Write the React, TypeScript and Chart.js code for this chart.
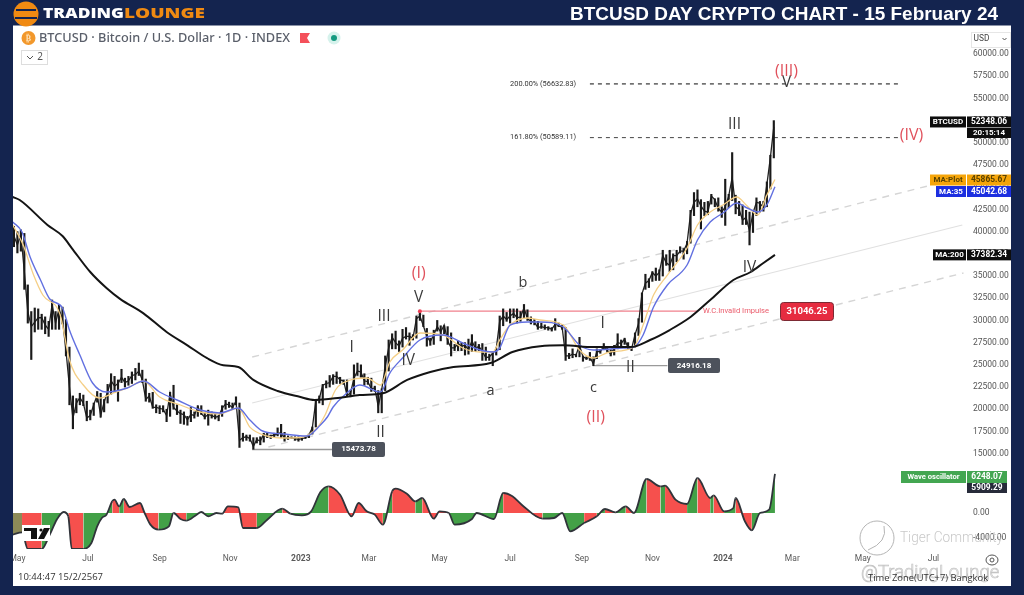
import React, { useEffect, useRef } from "react";
import { Chart, registerables } from "chart.js";

Chart.register(...registerables);

// Day offsets count from 1 May 2022
const monthDays = [0, 61, 123, 184, 245, 304, 365, 426, 488, 549, 610, 670, 731, 792];
const monthLabels = ["May", "Jul", "Sep", "Nov", "2023", "Mar", "May", "Jul", "Sep", "Nov", "2024", "Mar", "May", "Jul"];
const priceTicks = [15000, 17500, 20000, 22500, 25000, 27500, 30000, 32500, 35000, 37500, 40000, 42500, 45000, 47500, 50000, 52500, 55000, 57500, 60000];
const oscTicks = [0, -4000];

const firstCandleDay = -3;
const candleStep = 3;
const candleCloses = [
  39500, 38500, 39700, 35500, 31000, 29300, 29800, 30300, 30300, 29500,
  29000, 31800, 29700, 31300, 30100, 26600, 22500, 19000, 20700, 21300,
  20700, 19000, 19300, 20500, 21600, 19300, 20800, 22000, 23200, 22600,
  22900, 23600, 23000, 23200, 23800, 23900, 24300, 23300, 21100, 21500,
  20200, 20200, 20100, 20000, 19300, 21800, 20200, 19800, 19500, 19400,
  18800, 19400, 19300, 20300, 19500, 19100, 19400, 19300, 19100, 19200,
  20100, 20600, 20500, 20200, 20900, 16500, 16800, 16900, 16700, 15800,
  16600, 16400, 17200, 16900, 17000, 17100, 17200, 17400, 16700, 16800,
  16800, 16700, 16600, 16700, 16800, 17100, 17900, 20900, 21200, 22700,
  22900, 23000, 23700, 23700, 23300, 23200, 21600, 21800, 23500, 24300,
  24200, 23200, 23100, 22300, 22400, 20300, 22200, 24800, 26900, 28100,
  27500, 27100, 28000, 28200, 28200, 28000, 30200, 30500, 29400, 28200,
  27600, 28400, 29300, 28700, 29500, 27700, 26900, 26900, 27400, 27100,
  27200, 26700, 27700, 26800, 27100, 26500, 25800, 25900, 26300, 26800,
  29900, 30500, 30100, 30500, 30800, 30300, 30400, 31400, 30200, 29900,
  29800, 29200, 29300, 29200, 29200, 29000, 29600, 29400, 29200, 26000,
  26000, 26200, 26100, 27200, 25900, 25700, 25900, 25100, 26500, 26500,
  27100, 26600, 26200, 26900, 27500, 27400, 27900, 26900, 26800, 28400,
  29600, 33000, 34200, 34500, 35400, 35000, 35400, 37300, 36500, 36200,
  37300, 37300, 37800, 37800, 38700, 42000, 43300, 43700, 42900, 42300,
  42200, 44000, 43600, 42600, 42200, 42800, 44000, 46100, 42800, 42500,
  41300, 41600, 40100, 42100, 43300, 43200, 42700, 45300, 48300, 51800,
];
const candleHighs = [
  40600, 40000, 40200, 39800, 34000, 31000, 31400, 31300, 30700, 30400,
  29900, 32300, 31000, 31800, 31500, 30100, 27000, 21500, 21200, 21800,
  21600, 20900, 19900, 20700, 22000, 21800, 21100, 22800, 24000, 23700,
  23300, 24500, 23500, 23700, 24200, 24600, 25200, 24400, 23400, 21800,
  21900, 20500, 20400, 20400, 20000, 21900, 22700, 20500, 19900, 19700,
  19200, 20200, 19700, 20400, 20400, 19600, 19900, 19700, 19500, 19300,
  20400, 21000, 20800, 20700, 21400, 20700, 17300, 17100, 17100, 16800,
  16800, 16900, 17300, 17300, 17100, 17300, 17900, 18300, 17400, 17000,
  16900, 16900, 16900, 16800, 16900, 17200, 18000, 21100, 21500, 22800,
  23200, 23800, 23900, 24200, 23600, 23300, 23300, 22100, 25000, 25200,
  25000, 24000, 23600, 23500, 22600, 22100, 22300, 26000, 27800, 28500,
  28800, 27700, 29000, 29200, 28600, 28400, 30500, 31000, 30600, 29100,
  28000, 28900, 30000, 29400, 29400, 29300, 28600, 27300, 27700, 27500,
  27500, 27900, 28400, 27600, 27300, 27400, 27000, 26200, 26500, 26900,
  30500, 31300, 30900, 31300, 31300, 31300, 31000, 31800, 31200, 30400,
  30100, 29900, 29700, 29500, 29300, 29200, 30200, 29700, 29500, 29200,
  26300, 26800, 26200, 28100, 26000, 25900, 26400, 25900, 26800, 26700,
  27400, 26900, 26700, 27200, 28500, 27800, 28000, 27500, 27000, 28600,
  30200, 33100, 35200, 34700, 35500, 35900, 35700, 37900, 37400, 37900,
  37500, 37900, 38300, 38100, 38900, 42400, 44400, 44700, 43600, 43300,
  43400, 44200, 43700, 43800, 42800, 45900, 44200, 48900, 44100, 43400,
  43000, 42400, 42200, 42200, 43800, 43400, 43400, 45600, 48600, 52500,
];
const candleLows = [
  38300, 37600, 37800, 33500, 29700, 25600, 28700, 29000, 29000, 28500,
  28200, 29000, 29000, 29000, 29600, 26000, 20500, 17800, 19600, 20500,
  20400, 18700, 18800, 19300, 20800, 19100, 19700, 20700, 21700, 21900,
  20900, 23000, 22500, 22700, 22900, 23300, 23800, 23000, 20900, 20800,
  20100, 19600, 19500, 19700, 18600, 19200, 20000, 19400, 18400, 18300,
  18200, 18600, 19000, 19200, 19400, 18900, 18200, 19000, 18900, 18700,
  19200, 20000, 20200, 20000, 20500, 15700, 16400, 16500, 16400, 15500,
  16200, 16000, 16300, 16800, 16700, 16800, 17000, 16800, 16400, 16600,
  16700, 16500, 16400, 16500, 16700, 16800, 17200, 18000, 20700, 20500,
  22400, 22500, 22800, 22900, 22900, 22800, 21500, 21400, 21700, 23800,
  23600, 22700, 22800, 22000, 22000, 19600, 19600, 22100, 24300, 26800,
  26800, 26500, 27000, 27900, 27200, 27800, 28000, 30000, 29300, 27100,
  27200, 27300, 28800, 27700, 28500, 27300, 26000, 26600, 26600, 26600,
  26100, 26200, 26500, 26500, 26600, 25500, 25500, 25500, 24900, 26100,
  26700, 29400, 29900, 29700, 30300, 29700, 29900, 30300, 30000, 29600,
  29500, 29000, 29100, 29000, 28900, 28800, 28900, 29300, 29000, 25500,
  25700, 25800, 25900, 25900, 25400, 25600, 25500, 24900, 25700, 26300,
  26800, 26400, 26000, 26100, 26800, 27100, 27300, 26800, 26600, 27000,
  28300, 29800, 33500, 33700, 34400, 34500, 34500, 35000, 36200, 35500,
  35700, 36600, 37600, 36900, 37500, 38700, 41800, 42800, 40300, 41800,
  41900, 43100, 42800, 42300, 41600, 40700, 42700, 43500, 42000, 41800,
  40800, 40800, 38500, 39900, 41800, 42200, 42300, 42800, 44800, 48300,
];

const ma200Days = [-4, 2, 26, 39, 47, 63, 77, 89, 109, 129, 147, 164, 178, 191, 204, 225, 244, 257, 279, 296, 316, 337, 357, 377, 409, 428, 452, 472, 498, 530, 547, 564, 582, 599, 619, 634, 645, 655];
const ma200Values = [43900, 43560, 40750, 39500, 38150, 35450, 33650, 32400, 30800, 28700, 27200, 25750, 24950, 24750, 23300, 22050, 21400, 21050, 21300, 21600, 21800, 23300, 24200, 24750, 25200, 26450, 27100, 27200, 27000, 27000, 27796, 28922, 30386, 32300, 34552, 35453, 36466, 37382];

const ma35Days = [-4, 4, 11, 20, 28, 39, 45, 54, 65, 77, 95, 109, 123, 138, 158, 175, 191, 201, 212, 230, 250, 262, 268, 273, 282, 296, 314, 322, 333, 348, 368, 385, 400, 411, 417, 426, 441, 452, 472, 486, 498, 524, 533, 541, 550, 562, 579, 588, 599, 610, 622, 631, 640, 648, 655];
const ma35Values = [41083, 39957, 37142, 34552, 32413, 31399, 28922, 26107, 22954, 21941, 22391, 23179, 21941, 21040, 19914, 19576, 20139, 18788, 17549, 17212, 16986, 18225, 19126, 20250, 21490, 22729, 21941, 24080, 25769, 27796, 28359, 27458, 26670, 26445, 26895, 29485, 29823, 29823, 29260, 27233, 26670, 26895, 27008, 28359, 31512, 33989, 36241, 39056, 41083, 42096, 43222, 42659, 42209, 43002, 45043];

const maPlotDays = [-4, 5, 14, 22, 37, 45, 57, 71, 83, 95, 109, 123, 141, 158, 175, 191, 201, 216, 233, 247, 259, 266, 275, 288, 302, 314, 322, 333, 348, 368, 385, 400, 411, 417, 426, 441, 452, 472, 486, 498, 512, 533, 541, 550, 562, 579, 588, 599, 610, 622, 631, 640, 648, 655];
const maPlotValues = [40745, 38493, 35115, 32863, 30611, 25544, 22729, 21265, 21828, 22391, 23179, 21378, 20477, 19689, 19464, 20139, 17990, 16986, 16761, 16874, 17887, 19351, 22166, 23291, 23517, 22729, 25319, 26670, 28584, 28359, 26895, 26445, 26445, 27796, 29485, 30273, 30048, 29485, 26670, 25769, 26445, 27008, 29485, 32863, 35115, 38155, 40745, 42209, 42997, 43898, 42884, 41871, 44123, 45866];

const oscDays = [-4, 4, 9, 21, 28, 34, 40, 44, 47, 57, 64, 69, 73, 77, 82, 84, 88, 92, 97, 106, 110, 115, 122, 131, 135, 141, 146, 155, 159, 165, 172, 177, 182, 191, 195, 207, 216, 229, 236, 246, 254, 262, 269, 279, 289, 295, 302, 309, 316, 324, 327, 337, 344, 350, 360, 365, 373, 378, 393, 397, 412, 420, 428, 436, 454, 464, 471, 478, 490, 501, 508, 517, 526, 533, 544, 556, 560, 569, 579, 588, 599, 602, 611, 619, 621, 629, 635, 642, 650, 655];
const oscValues = [-3465, -3090, -5760, -5760, -3465, -1066, 160, -533, -5760, -5760, -4797, -2132, -800, -266, 1866, 2132, 1066, 2239, 960, 1600, 0, -1866, -2665, -2132, 0, -960, -1226, -266, 160, -533, 0, -107, 1066, 906, -2400, -2400, -1066, 693, -107, -373, 266, 3358, 4264, 2932, -533, 1600, 266, -266, -1866, 3465, 3891, 3038, 1866, 2399, -906, 266, 0, -1866, -960, 0, -960, 3198, 2665, 1333, -906, -800, 0, -2932, -1600, -533, 640, 107, 1066, 0, 5437, 4264, 4371, 2132, 1439, 5597, 2399, 2825, 266, 800, 2399, -1333, -2772, 0, 533, 6248];
// Day each colour band of the oscillator starts on
const oscBandStarts = [-4, 4, 12, 41, 49, 59, 63, 82, 87, 92, 99, 106, 122, 135, 146, 176, 197, 202, 205, 220, 233, 269, 316, 323, 331, 337, 344, 350, 373, 389, 392, 400, 412, 419, 451, 461, 464, 474, 478, 490, 493, 503, 514, 523, 532, 544, 556, 560, 579, 588, 599, 602, 611, 621, 635];
const oscBandKinds = ["o", "r", "g", "r", "g", "r", "g", "r", "g", "r", "g", "r", "g", "r", "g", "r", "g", "r", "g", "r", "g", "r", "g", "r", "g", "r", "g", "r", "g", "r", "g", "r", "g", "r", "g", "r", "g", "r", "g", "r", "g", "r", "g", "r", "g", "r", "g", "r", "g", "r", "g", "r", "g", "r", "g"];

const fib200 = { day0: 495, day1: 763, value: 56632.83, text: "200.00% (56632.83)", textDay: 426 };
const fib161 = { day0: 495, day1: 763, value: 50589.11, text: "161.80% (50589.11)", textDay: 426 };
const invalidLine = { day0: 348, day1: 588, value: 31046.25 };
const lowAnchor = { day0: 203, day1: 272, value: 15473.78 };
const midAnchor = { day0: 498, day1: 562, value: 24916.18 };
const channelUpperDays = [203, 787];
const channelUpperValues = [25880, 45136];
const channelMidDays = [203, 817];
const channelMidValues = [20700, 40745];
const channelLowerDays = [217, 818];
const channelLowerValues = [15748, 35340];

const waveTexts = ["I", "III", "IV", "V", "a", "b", "c", "I", "II", "II", "III", "IV", "V"];
const waveDays = [289, 317, 338, 347, 409, 437, 498, 506, 530, 314, 620, 633, 665];
const wavePrices = [26895, 30386, 25431, 32525, 22053, 34214, 22391, 29598, 24643, 17324, 52005, 35903, 56734];
const redTexts = ["(I)", "(II)", "(III)", "(IV)"];
const redDays = [347, 500, 665, 773];
const redPrices = [35340, 19126, 58085, 50879];

const NAVY = "#14244f";
const GREEN = "#43a047";
const RED = "#f6504d";

const pts = (xs: number[], ys: number[]) => xs.map((x, i) => ({ x, y: ys[i] }));
const candleDay = (i: number) => firstCandleDay + i * candleStep;
const flat = (l: { day0: number; day1: number; value: number }) => [
  { x: l.day0, y: l.value },
  { x: l.day1, y: l.value },
];

function bandColor(day: number) {
  let k = "g";
  for (let i = 0; i < oscBandStarts.length; i++) if (day >= oscBandStarts[i]) k = oscBandKinds[i];
  return k === "r" ? RED : k === "o" ? "#8c8a58" : GREEN;
}

function txt(c: any, s: string, x: number, y: number, font: string, color: string, align: CanvasTextAlign = "left") {
  c.font = font;
  c.fillStyle = color;
  c.textAlign = align;
  c.textBaseline = "middle";
  c.fillText(s, x, y);
}

// text stretched sideways so it spans the given width
function fitTxt(c: any, s: string, x: number, y: number, w: number, font: string, color: string) {
  c.save();
  c.font = font;
  const m = c.measureText(s).width;
  c.translate(x, y);
  c.scale(w / m, 1);
  txt(c, s, 0, 0, font, color);
  c.restore();
}

function box(c: any, x0: number, y0: number, x1: number, y1: number, color: string) {
  c.fillStyle = color;
  c.fillRect(x0, y0, x1 - x0, y1 - y0);
}

const UI = "Roboto, sans-serif";

function drawPanel(chart: any) {
  const c = chart.ctx;
  box(c, 0, 0, 1024, 595, NAVY);
  box(c, 13, 25.5, 1011, 586, "#ffffff");
}

function drawDecor(chart: any) {
  const c = chart.ctx;
  const { x: X, y: Y } = chart.scales;
  c.save();
  // strip that cuts off the axis text at the panel edge
  box(c, 0, 26, 13, 595, NAVY);

  // header
  c.fillStyle = "#f08a12";
  c.beginPath();
  c.arc(26, 14, 12.5, 0, Math.PI * 2);
  c.fill();
  box(c, 16, 9, 36, 11, NAVY);
  box(c, 15, 17, 37, 19, NAVY);
  fitTxt(c, "TRADING", 43, 14, 81, '800 13.5px "Open Sans", sans-serif', "#ffffff");
  fitTxt(c, "LOUNGE", 124, 14, 81, '800 13.5px "Open Sans", sans-serif', "#f08a12");
  fitTxt(c, "BTCUSD DAY CRYPTO CHART - 15 February 24", 570, 15, 428, '700 18.5px "Liberation Sans", sans-serif', "#ffffff");

  // symbol legend
  c.fillStyle = "#f2982c";
  c.beginPath();
  c.arc(28.5, 38, 7, 0, Math.PI * 2);
  c.fill();
  txt(c, "₿", 28.5, 38.5, "700 8px 'DejaVu Sans'", "#ffe2b8", "center");
  fitTxt(c, "BTCUSD · Bitcoin / U.S. Dollar · 1D · INDEX", 39, 38, 251, '500 12.4px "Noto Sans", sans-serif', "#5a5f6a");
  c.fillStyle = "#f4505a";
  c.beginPath();
  c.moveTo(300, 33);
  c.lineTo(310, 33);
  c.lineTo(307, 38);
  c.lineTo(310, 43);
  c.lineTo(300, 43);
  c.fill();
  c.fillStyle = "#d6f2ec";
  c.beginPath();
  c.arc(334, 38, 6.5, 0, Math.PI * 2);
  c.fill();
  c.fillStyle = "#159a80";
  c.beginPath();
  c.arc(334, 38, 3, 0, Math.PI * 2);
  c.fill();
  c.strokeStyle = "#dddddd";
  c.lineWidth = 1;
  c.strokeRect(21.5, 50.5, 26, 14);
  c.strokeStyle = "#555555";
  c.beginPath();
  c.moveTo(27, 56);
  c.lineTo(30, 59);
  c.lineTo(33, 56);
  c.stroke();
  txt(c, "2", 40, 57.5, '10px "Noto Sans"', "#555555", "center");
  c.strokeStyle = "#e6e6e6";
  c.strokeRect(971.5, 32.5, 39, 15);
  txt(c, "USD", 981.5, 38.5, `8.4px ${UI}`, "#444444", "center");
  c.strokeStyle = "#555555";
  c.beginPath();
  c.moveTo(1002.5, 38);
  c.lineTo(1004.5, 40);
  c.lineTo(1006.5, 38);
  c.stroke();

  // tradingview mark
  box(c, 22, 525, 50, 541, "#ffffff");
  box(c, 24, 528, 37, 531, "#111111");
  box(c, 31, 531, 37, 539, "#111111");
  c.fillStyle = "#111111";
  c.beginPath();
  c.arc(41, 530, 1.6, 0, Math.PI * 2);
  c.fill();
  c.beginPath();
  c.moveTo(44, 528);
  c.lineTo(50, 528);
  c.lineTo(44, 539);
  c.lineTo(38, 539);
  c.fill();

  // wave counts
  waveTexts.forEach((s, i) => {
    const big = s === "III" || s === "II" || s === "I" || s === "V" || s === "IV";
    txt(c, s, X.getPixelForValue(waveDays[i]), Y.getPixelForValue(wavePrices[i]), big ? '15.5px "Open Sans", sans-serif' : '14.5px "Open Sans", sans-serif', "#3a3a3a", "center");
  });
  redTexts.forEach((s, i) => {
    txt(c, s, X.getPixelForValue(redDays[i]), Y.getPixelForValue(redPrices[i]), '16px "Open Sans", sans-serif', "#e0515c", "center");
  });

  // fib texts
  [fib200, fib161].forEach((f) => {
    txt(c, f.text, X.getPixelForValue(f.textDay), Y.getPixelForValue(f.value), `7.4px ${UI}`, "#333333");
  });

  // invalidation
  const ry = Y.getPixelForValue(invalidLine.value);
  c.fillStyle = "#ee3f55";
  c.beginPath();
  c.arc(X.getPixelForValue(invalidLine.day0), ry, 2, 0, Math.PI * 2);
  c.fill();
  txt(c, "W.C.Invalid Impulse", 703, ry, `7.6px ${UI}`, "#ea5a6a");
  c.fillStyle = "#e62c40";
  c.strokeStyle = "#7c2a34";
  c.lineWidth = 1;
  c.beginPath();
  c.roundRect(780.5, 302.5, 53, 18, 3);
  c.fill();
  c.stroke();
  txt(c, "31046.25", 807, 311.5, `700 9.5px ${UI}`, "#ffffff", "center");

  // anchored low tags
  [
    { l: lowAnchor, s: "15473.78", x0: 332, x1: 385 },
    { l: midAnchor, s: "24916.18", x0: 668, x1: 720 },
  ].forEach(({ l, s, x0, x1 }) => {
    const y = Y.getPixelForValue(l.value);
    c.fillStyle = "#4d525c";
    c.beginPath();
    c.roundRect(x0, y - 7.5, x1 - x0, 15, 2);
    c.fill();
    txt(c, s, (x0 + x1) / 2, y, `700 8px ${UI}`, "#ffffff", "center");
  });

  // right side price labels
  const v = (p: number) => Y.getPixelForValue(p);
  const lab = (name: string, x0: number, val: string, y: number, bg: string, fg: string) => {
    box(c, x0, y - 5.5, 966, y + 5.5, bg);
    box(c, 967, y - 5.5, 1011, y + 5.5, bg);
    txt(c, name, (x0 + 966) / 2, y, `700 8px ${UI}`, fg, "center");
    txt(c, val, 989, y, `700 8.4px ${UI}`, fg, "center");
  };
  lab("BTCUSD", 930, "52348.06", v(52348.06), "#0d0d0d", "#ffffff");
  box(c, 967, 128, 1011, 138, "#0d0d0d");
  txt(c, "20:15:14", 989, 133, `700 8px ${UI}`, "#ffffff", "center");
  lab("MA:Plot", 930, "45865.67", 180, "#f5a50a", "#5a4200");
  lab("MA:35", 936, "45042.68", 191.5, "#1c2fe0", "#ffffff");
  lab("MA:200", 933, "37382.34", v(37382.34), "#0d0d0d", "#ffffff");

  box(c, 901, 471, 966, 483, "#43a651");
  txt(c, "Wave oscillator", 933.5, 477, `700 7.6px ${UI}`, "#ffffff", "center");
  box(c, 967, 471, 1007, 483, "#43a651");
  txt(c, "6248.07", 987, 477, `700 8.4px ${UI}`, "#ffffff", "center");
  box(c, 967, 483, 1007, 493, "#272b3a");
  txt(c, "5909.29", 987, 488, `700 8.4px ${UI}`, "#ffffff", "center");

  // watermark
  c.strokeStyle = "#b5b5b5";
  c.lineWidth = 1;
  c.beginPath();
  c.arc(877, 538, 17, 0, Math.PI * 2);
  c.stroke();
  c.beginPath();
  c.moveTo(868, 550);
  c.quadraticCurveTo(888, 542, 884, 526);
  c.stroke();
  fitTxt(c, "Tiger Community", 900, 538, 103, `300 14.5px ${UI}`, "#c9c9c9");
  c.strokeStyle = "#c4c4c4";
  c.lineWidth = 0.7;
  c.font = `300 18.5px ${UI}`;
  c.textAlign = "left";
  c.strokeText("@TradingLounge", 861, 573);

  // footer
  txt(c, "10:44:47 15/2/2567", 18, 577, `9.5px "Open Sans", sans-serif`, "#333333");
  txt(c, "Time Zone(UTC+7) Bangkok", 868, 578, `9.4px "Open Sans", sans-serif`, "#333333");
  c.strokeStyle = "#555555";
  c.lineWidth = 1;
  c.beginPath();
  c.ellipse(992, 560, 6, 5, 0, 0, Math.PI * 2);
  c.stroke();
  c.beginPath();
  c.arc(992, 560, 2, 0, Math.PI * 2);
  c.stroke();
  c.restore();
}

const fixedWidth = (w: number) => (s: any) => {
  s.width = w;
};
const fixedHeight = (h: number) => (s: any) => {
  s.height = h;
};

export default function App() {
  const ref = useRef<HTMLCanvasElement>(null);
  useEffect(() => {
    document.body.style.margin = "0";
    const lineBase = { type: "line", pointRadius: 0, fill: false };
    const chart = new Chart(ref.current!, {
      type: "bar",
      data: {
        datasets: [
          { ...lineBase, label: "Wave oscillator", yAxisID: "y2", data: pts(oscDays, oscValues), borderColor: "#30343a", borderWidth: 1.8, cubicInterpolationMode: "monotone", fill: { target: { value: 0 } }, backgroundColor: GREEN, segment: { backgroundColor: (ctx: any) => bandColor(ctx.p0.parsed.x) }, order: 1 },
          { ...lineBase, label: "Upper channel", data: pts(channelUpperDays, channelUpperValues), borderColor: "#d5d5d5", borderWidth: 1.4, borderDash: [7, 6], order: 9 },
          { ...lineBase, label: "Mid channel", data: pts(channelMidDays, channelMidValues), borderColor: "#e0e0e0", borderWidth: 1.2, order: 9 },
          { ...lineBase, label: "Lower channel", data: pts(channelLowerDays, channelLowerValues), borderColor: "#d5d5d5", borderWidth: 1.4, borderDash: [7, 6], order: 9 },
          { ...lineBase, label: "Fib 200", data: flat(fib200), borderColor: "#222222", borderWidth: 1.1, borderDash: [4, 4], order: 8 },
          { ...lineBase, label: "Fib 161.8", data: flat(fib161), borderColor: "#555555", borderWidth: 1.1, borderDash: [4, 4], order: 8 },
          { ...lineBase, label: "Invalidation", data: flat(invalidLine), borderColor: "#f0808c", borderWidth: 1.2, order: 8 },
          { ...lineBase, label: "Low anchor", data: flat(lowAnchor), borderColor: "#9a9a9a", borderWidth: 1.4, order: 8 },
          { ...lineBase, label: "Mid anchor", data: flat(midAnchor), borderColor: "#9a9a9a", borderWidth: 1.4, order: 8 },
          { label: "BTCUSD range", data: candleCloses.map((_, i) => ({ x: candleDay(i), y: [candleLows[i], candleHighs[i]] })), backgroundColor: "#1a1a1a", barThickness: 1.5, order: 6 },
          { ...lineBase, label: "BTCUSD", data: candleCloses.map((v, i) => ({ x: candleDay(i), y: v })), borderColor: "#222222", borderWidth: 1.3, order: 6 },
          { ...lineBase, label: "MA Plot", data: pts(maPlotDays, maPlotValues), borderColor: "#f5cf86", borderWidth: 1.3, cubicInterpolationMode: "monotone", order: 4 },
          { ...lineBase, label: "MA 35", data: pts(ma35Days, ma35Values), borderColor: "#6270e0", borderWidth: 1.4, cubicInterpolationMode: "monotone", order: 3 },
          { ...lineBase, label: "MA 200", data: pts(ma200Days, ma200Values), borderColor: "#141414", borderWidth: 2, cubicInterpolationMode: "monotone", order: 2 },
        ] as any,
      },
      options: {
        responsive: false,
        animation: false,
        devicePixelRatio: 1,
        layout: { padding: { left: 13, top: 26, right: 13, bottom: 9 } },
        plugins: { legend: { display: false }, tooltip: { enabled: false } },
        scales: {
          x: {
            type: "linear",
            min: -3.8,
            max: 821.9,
            offset: false,
            grid: { display: false, drawTicks: false },
            border: { display: false },
            afterBuildTicks: (s: any) => {
              s.ticks = monthDays.map((value) => ({ value }));
            },
            afterFit: fixedHeight(37),
            ticks: {
              autoSkip: false,
              maxRotation: 0,
              padding: 5,
              color: "#5a5a5a",
              font: (ctx: any) => ({ family: "Roboto", size: 8.5, weight: /^\d{4}$/.test(String(ctx.tick?.label)) ? "700" : "400" }),
              callback: (_: any, i: number) => monthLabels[i],
            },
          },
          y: {
            type: "linear",
            position: "right",
            stack: "panes",
            stackWeight: 442,
            min: 13384,
            max: 63153,
            grid: { display: false, drawTicks: false },
            border: { display: false },
            afterBuildTicks: (s: any) => {
              s.ticks = priceTicks.map((value) => ({ value }));
            },
            afterFit: fixedWidth(43),
            ticks: { autoSkip: false, padding: 5, color: "#555555", font: { family: "Roboto", size: 8.5 }, callback: (v: any) => Number(v).toFixed(2) },
          },
          y2: {
            type: "linear",
            position: "right",
            stack: "panes",
            stackWeight: 81,
            min: -5760,
            max: 7200,
            grid: { display: false, drawTicks: false },
            border: { display: false },
            afterBuildTicks: (s: any) => {
              s.ticks = oscTicks.map((value) => ({ value }));
            },
            afterFit: fixedWidth(43),
            ticks: { autoSkip: false, padding: 5, color: "#555555", font: { family: "Roboto", size: 8.5 }, callback: (v: any) => Number(v).toFixed(2) },
          },
        },
      },
      plugins: [
        { id: "panel", beforeDraw: drawPanel },
        { id: "decor", afterDraw: drawDecor },
      ],
    } as any);
    return () => chart.destroy();
  }, []);
  return <canvas ref={ref} width={1024} height={595} style={{ display: "block", filter: "blur(0.45px)" }} />;
}
